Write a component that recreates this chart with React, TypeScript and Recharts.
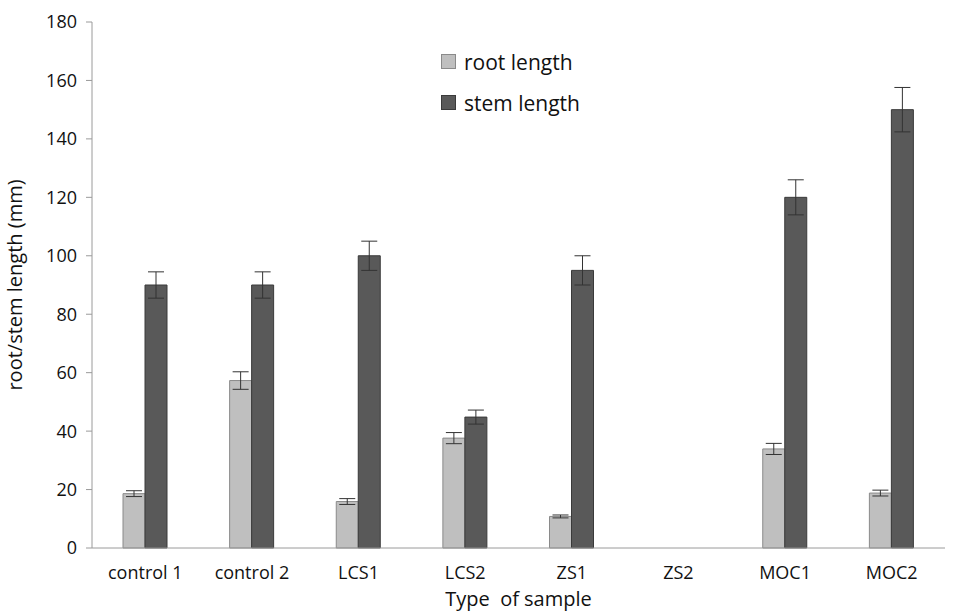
import { BarChart, Bar, XAxis, YAxis, ErrorBar } from "recharts";

const samples = ["control 1", "control 2", "LCS1", "LCS2", "ZS1", "ZS2", "MOC1", "MOC2"];
const rootLength = [18.6, 57.3, 15.9, 37.6, 10.8, null, 33.9, 18.8];
const rootError = [1.0, 3.0, 1.0, 1.9, 0.5, null, 1.9, 1.0];
const stemLength = [90, 90, 100, 44.8, 95, null, 120, 150];
const stemError = [4.5, 4.5, 5.0, 2.4, 5.0, null, 6.0, 7.6];
const yTicks = [0, 20, 40, 60, 80, 100, 120, 140, 160, 180];

const data = samples.map((name, i) => ({
  name,
  root: rootLength[i],
  rootErr: rootError[i],
  stem: stemLength[i],
  stemErr: stemError[i],
}));

const FONT = "'Open Sans', sans-serif";

const legendItems = [
  { label: "root length", fill: "#bfbfbf", stroke: "#8a8a8a" },
  { label: "stem length", fill: "#595959", stroke: "#3a3a3a" },
];

// legend sits inside the plot area, so it is drawn as an overlay
function LegendBox() {
  return (
    <div
      style={{
        position: "absolute",
        left: 441,
        top: 48,
        fontFamily: FONT,
        fontSize: 21,
        color: "#111",
      }}
    >
      {legendItems.map((it) => (
        <div key={it.label} style={{ display: "flex", alignItems: "center", height: 27, marginBottom: 14 }}>
          <span
            style={{
              display: "inline-block",
              width: 13,
              height: 13,
              background: it.fill,
              border: `1px solid ${it.stroke}`,
              marginRight: 8,
            }}
          />
          {it.label}
        </div>
      ))}
    </div>
  );
}

export default function App() {
  return (
    <div style={{ position: "absolute", left: 0, top: 0, width: 955, height: 613, background: "#fff" }}>
      <BarChart
        width={955}
        height={613}
        data={data}
        margin={{ top: 22, right: 10, left: 0, bottom: 4 }}
        barSize={22}
        barGap={0}
      >
        <XAxis
          dataKey="name"
          height={61}
          axisLine={{ stroke: "#9a9a9a" }}
          tickLine={false}
          tickMargin={12}
          tick={{ fontFamily: FONT, fontSize: 18, fill: "#111" }}
          label={{
            value: "Type\u00a0 of sample",
            position: "insideBottom",
            offset: 3,
            style: { fontFamily: FONT, fontSize: 20, fill: "#111" },
          }}
        />
        <YAxis
          width={92}
          domain={[0, 180]}
          ticks={yTicks}
          interval={0}
          axisLine={{ stroke: "#9a9a9a" }}
          tickLine={{ stroke: "#9a9a9a" }}
          tickSize={6}
          tickMargin={9}
          tick={{ fontFamily: FONT, fontSize: 18, fill: "#111" }}
          label={{
            value: "root/stem length (mm)",
            angle: -90,
            position: "insideLeft",
            offset: 15,
            style: { fontFamily: FONT, fontSize: 20, fill: "#111", textAnchor: "middle" },
          }}
        />
        <Bar dataKey="root" name="root length" fill="#bfbfbf" stroke="#8a8a8a" isAnimationActive={false}>
          <ErrorBar dataKey="rootErr" width={8} stroke="#333" strokeWidth={1} />
        </Bar>
        <Bar dataKey="stem" name="stem length" fill="#595959" stroke="#3a3a3a" isAnimationActive={false}>
          <ErrorBar dataKey="stemErr" width={8} stroke="#333" strokeWidth={1} />
        </Bar>
      </BarChart>
      <LegendBox />
    </div>
  );
}
